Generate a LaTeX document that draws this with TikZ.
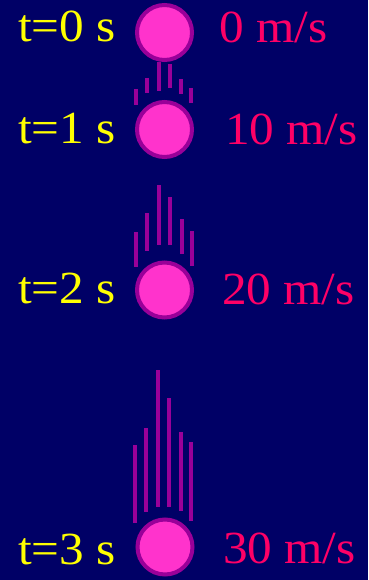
\documentclass[tikz,border=0pt]{standalone}
\usepackage{fontspec}
\setmainfont[FakeStretch=1.07]{Liberation Serif}
\usepackage{xcolor}
\definecolor{night}{HTML}{000066}
\definecolor{ballpink}{HTML}{FF33CC}
\definecolor{ballrim}{HTML}{990099}
\definecolor{speedred}{HTML}{FF0066}
\definecolor{timeyellow}{HTML}{FFFF00}

\begin{document}
\begin{tikzpicture}[x=1pt,y=-1pt,
  ball/.style={circle,fill=ballpink,draw=ballrim,line width=4pt,minimum size=55pt,inner sep=0pt},
  timelabel/.style={anchor=base west,inner sep=0pt,text=timeyellow,font=\fontsize{46}{50}\selectfont},
  speedlabel/.style={anchor=base west,inner sep=0pt,text=speedred,font=\fontsize{46}{50}\selectfont},
  streak/.style={draw=ballrim,line width=4pt}]
\fill[night] (0,0) rectangle (368,580);
\useasboundingbox (0,0) rectangle (368,580);
% motion streaks
\foreach \x/\a/\b in {135.5/89/105,146.5/78/93,158.5/62/91,170/64/88,181/79/94,191/88/103,
  136/232/267,147/213/251,159/185/245,170/197/245,182/219/254,192/231/266,
  135/445/523,146/428/512,158/370/507,169/398/507,181/432/511,191/442/521}
  \draw[streak] (\x,\a) -- (\x,\b);
% falling ball
\node[ball] (ball0) at (164.5,32.5) {};
\node[ball] (ball1) at (164.5,129.5) {};
\node[ball] (ball2) at (164.5,290) {};
\node[ball] (ball3) at (165,547) {};
% labels
\node[timelabel] (time0) at (18,42) {t=0 s};
\node[timelabel] (time1) at (18,143) {t=1 s};
\node[timelabel] (time2) at (18,303) {t=2 s};
\node[timelabel] (time3) at (18,564) {t=3 s};
\node[speedlabel] (speed0) at (219,43) {0 m/s};
\node[speedlabel] (speed1) at (225,145) {10 m/s};
\node[speedlabel] (speed2) at (222,304) {20 m/s};
\node[speedlabel] (speed3) at (223,563) {30 m/s};
\end{tikzpicture}
\end{document}
